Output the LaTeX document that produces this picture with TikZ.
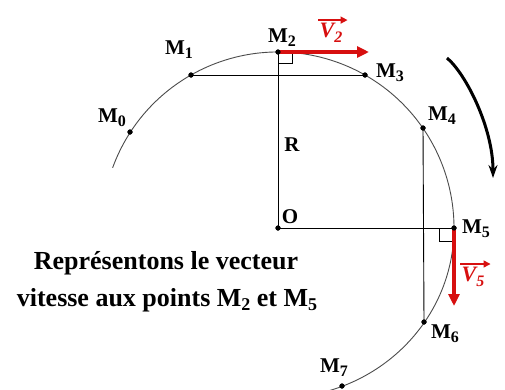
\documentclass[tikz,border=0pt]{standalone}
\usepackage{fontspec}
\setmainfont{Liberation Serif}
\usetikzlibrary{arrows.meta}
\definecolor{vred}{RGB}{215,15,15}
\definecolor{arcgray}{RGB}{75,75,75}
\newcommand{\Mlab}[1]{M\raisebox{-0.4ex}{\fontsize{16}{16}\selectfont #1}}
\newcommand{\Msub}[1]{M\raisebox{-0.35ex}{\fontsize{18}{18}\selectfont #1}}
\begin{document}
\begin{tikzpicture}[x=1pt,y=-1pt,
  dot/.style={circle,fill=black,inner sep=0pt,minimum size=5pt},
  lab/.style={font=\fontsize{21}{21}\selectfont\bfseries,inner sep=0pt},
  vlab/.style={font=\fontsize{22}{22}\selectfont\bfseries\itshape,text=vred,inner sep=0pt},
  txt/.style={font=\fontsize{26}{26}\selectfont\bfseries,inner sep=0pt,anchor=base},
  thinline/.style={line width=0.9pt,black},
  arcline/.style={line width=0.9pt,arcgray},
  vec/.style={line width=3.5pt,vred,-{Triangle[length=12pt,width=11pt]}},
  vbar/.style={line width=1.4pt,vred,-{Triangle[length=7pt,width=7pt]}},
  turn/.style={line width=3pt,black,-{Stealth[length=13pt,width=9pt]}}]
\useasboundingbox (0,0) rectangle (505,389);
\clip (0,0) rectangle (505,389);

\coordinate (O) at (278,228);
% circle arcs
\draw[arcline] (O) ++(-160:176) arc[start angle=-160,end angle=0,radius=176];
\draw[arcline] (O) ++(0:176) arc[start angle=0,end angle=78,x radius=176,y radius=170];

% points
\node[dot] (M0) at (130,132) {};
\node[dot] (M1) at (191,75) {};
\node[dot] (M2) at (278,52) {};
\node[dot] (M3) at (365,75) {};
\node[dot] (M4) at (423,128) {};
\node[dot] (M5) at (454,228) {};
\node[dot] (M6) at (424,322) {};
\node[dot] (M7) at (342,386) {};
\node[dot] (Od) at (O) {};

% construction lines
\draw[thinline] (M1.center) -- (M3.center);
\draw[thinline] (M2.center) -- (O);
\draw[thinline] (O) -- (M5.center);
\draw[thinline] (M4.center) -- (M6.center);
% right angle marks
\draw[thinline] (278,63) -| (292,52);
\draw[thinline] (439,228) |- (454,241);

% velocity vectors
\coordinate (V2end) at (369,52);
\coordinate (V5end) at (454,306);
\draw[vec] (M2.center) -- (V2end);
\draw[vec] (M5.center) -- (V5end);

% redraw dots on top
\foreach \p in {M0,M1,M2,M3,M4,M5,M6,M7,Od} \fill (\p.center) circle (2.6pt);

% rotation arrow
\coordinate (rotS) at (447,58);
\coordinate (rotE) at (493,178);
\draw[turn] (rotS) .. controls (466,74) and (493,128) .. (rotE);

% labels
\node[lab] (L0) at (112,118) {\Mlab{0}};
\node[lab] (L1) at (179,50) {\Mlab{1}};
\node[lab] (L2) at (282,38) {\Mlab{2}};
\node[lab] (L3) at (390,73) {\Mlab{3}};
\node[lab] (L4) at (442,116) {\Mlab{4}};
\node[lab] (L5) at (476,229) {\Mlab{5}};
\node[lab] (L6) at (445,334) {\Mlab{6}};
\node[lab] (L7) at (334,368) {\Mlab{7}};
\node[lab] (LR) at (292,145) {R};
\node[lab] (LO) at (290,217) {O};

% vector labels
\node[vlab] (V2lab) at (331,33) {V\raisebox{-0.5ex}{\fontsize{16}{16}\selectfont 2}};
\draw[vbar] ([xshift=-1pt,yshift=3pt]V2lab.north west) -- ([xshift=5pt,yshift=3pt]V2lab.north east);
\node[vlab] (V5lab) at (473,277) {V\raisebox{-0.5ex}{\fontsize{16}{16}\selectfont 5}};
\draw[vbar] ([xshift=-1pt,yshift=3pt]V5lab.north west) -- ([xshift=6pt,yshift=3pt]V5lab.north east);

% text
\node[txt] (T1) at (166,269) {Représentons le vecteur};
\node[txt] (T2) at (167,306) {vitesse aux points \Msub{2} et \Msub{5}};
\end{tikzpicture}
\end{document}
